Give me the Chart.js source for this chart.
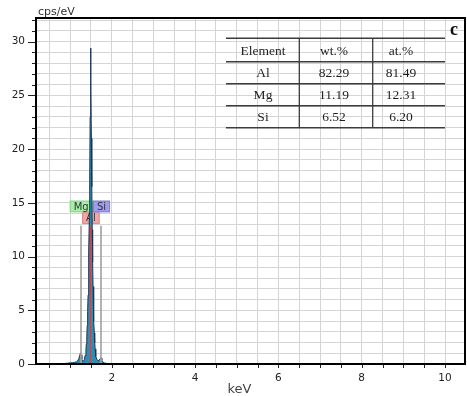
<!DOCTYPE html>
<html><head><meta charset="utf-8">
<script src="https://cdn.jsdelivr.net/npm/chart.js@4/dist/chart.umd.min.js"></script>
<style>html,body{margin:0;padding:0;background:#fff;}</style>
</head><body>
<canvas id="c" width="467" height="396"></canvas>
<script>
// ---- data ----
const energyKeV = [0.18, 0.70, 0.80, 0.90, 1.00, 1.05, 1.10, 1.15, 1.18, 1.21, 1.23, 1.245, 1.255, 1.265, 1.28, 1.30, 1.32, 1.34, 1.36, 1.38, 1.39, 1.40, 1.41, 1.42, 1.43, 1.44, 1.45, 1.46, 1.47, 1.48, 1.49, 1.50, 1.51, 1.52, 1.53, 1.54, 1.55, 1.56, 1.57, 1.58, 1.59, 1.60, 1.61, 1.62, 1.64, 1.67, 1.70, 1.72, 1.735, 1.745, 1.76, 1.78, 1.82, 1.88, 1.95, 2.10, 3.00, 5.00, 8.00, 10.48];
const cpsPerEV  = [0.00, 0.00, 0.02, 0.06, 0.10, 0.12, 0.15, 0.20, 0.30, 0.50, 0.80, 1.00, 1.05, 0.85, 0.45, 0.25, 0.25, 0.40, 0.80, 1.40, 1.90, 2.60, 3.60, 4.90, 6.40, 8.10, 10.50, 13.50, 17.50, 23.00, 29.40, 25.50, 21.00, 16.50, 12.50, 9.50, 7.20, 5.40, 4.00, 2.90, 2.00, 1.40, 1.00, 0.70, 0.45, 0.30, 0.35, 0.50, 0.60, 0.55, 0.35, 0.20, 0.10, 0.05, 0.02, 0.01, 0.01, 0.01, 0.01, 0.01];

const elementNames = ['Mg', 'Al', 'Si'];
const elementKeV   = [1.254, 1.486, 1.740];

const xTickValues = [0.5, 1, 1.5, 2, 2.5, 3, 3.5, 4, 4.5, 5, 5.5, 6, 6.5, 7, 7.5, 8, 8.5, 9, 9.5, 10];
const xTickLabels = [2, 4, 6, 8, 10];
const yTickValues = [0, 1, 2, 3, 4, 5, 6, 7, 8, 9, 10, 11, 12, 13, 14, 15, 16, 17, 18, 19, 20, 21, 22, 23, 24, 25, 26, 27, 28, 29, 30, 31, 32];
const yTickLabels = [0, 5, 10, 15, 20, 25, 30];

const tableHeader   = ['Element', 'wt.%', 'at.%'];
const tableElements = ['Al', 'Mg', 'Si'];
const tableWt       = ['82.29', '11.19', '6.52'];
const tableAt       = ['81.49', '12.31', '6.20'];
const panelLetter   = 'c';

// ---- chart ----
const points = energyKeV.map((x, i) => ({x: x, y: cpsPerEV[i]}));

const labelStyles = {
  Mg: {fill: '#a8eea8', stroke: '#86d686'},
  Al: {fill: '#f3a6a6', stroke: '#dc8a8a'},
  Si: {fill: '#9e9ef0', stroke: '#7e7ed8'}
};

const decor = {
  id: 'decor',
  beforeDatasetsDraw(chart) {
    const {ctx, scales: {x, y}} = chart;
    ctx.save();
    ctx.font = '10px "DejaVu Sans"';
    ctx.textAlign = 'center';
    ctx.textBaseline = 'middle';
    elementNames.forEach((name, i) => {
      const cx = x.getPixelForValue(elementKeV[i]) + 0.5;
      const top = name === 'Al' ? y.getPixelForValue(14.12) : y.getPixelForValue(15.2);
      const w = ctx.measureText(name).width + 8;
      const h = 11.6;
      ctx.fillStyle = labelStyles[name].fill;
      ctx.strokeStyle = labelStyles[name].stroke;
      ctx.lineWidth = 1;
      ctx.fillRect(cx - w / 2, top, w, h);
      ctx.strokeRect(cx - w / 2 + 0.5, top + 0.5, w - 1, h - 1);
      ctx.fillStyle = '#333';
      ctx.fillText(name, cx, top + h / 2 + 0.5);
    });
    ctx.restore();
  },
  afterDatasetsDraw(chart) {
    const {ctx, scales: {x, y}} = chart;
    ctx.save();
    const yTop = y.getPixelForValue(12.86);
    const yBot = y.getPixelForValue(0);
    elementNames.forEach((name, i) => {
      const px = Math.round(x.getPixelForValue(elementKeV[i]));
      ctx.beginPath();
      if (name === 'Al') {
        ctx.strokeStyle = 'rgba(215,60,60,0.8)';
        ctx.lineWidth = 1;
        ctx.moveTo(px + 0.5, yTop); ctx.lineTo(px + 0.5, yBot);
      } else {
        ctx.strokeStyle = 'rgba(165,165,165,0.85)';
        ctx.lineWidth = 2;
        ctx.moveTo(px, yTop); ctx.lineTo(px, yBot);
      }
      ctx.stroke();
    });
    ctx.restore();
  },
  afterDraw(chart) {
    const {ctx, chartArea: a, scales: {x, y}} = chart;
    ctx.save();
    // ticks
    ctx.strokeStyle = '#222';
    ctx.lineWidth = 1;
    yTickValues.forEach(v => {
      const py = Math.round(y.getPixelForValue(v)) + 0.5;
      const len = yTickLabels.includes(v) ? 8 : 4;
      ctx.beginPath(); ctx.moveTo(a.left - len, py); ctx.lineTo(a.left, py); ctx.stroke();
    });
    xTickValues.forEach(v => {
      const px = Math.round(x.getPixelForValue(v)) + 0.5;
      ctx.beginPath(); ctx.moveTo(px, a.bottom); ctx.lineTo(px, a.bottom + 4); ctx.stroke();
    });
    // frame
    ctx.strokeStyle = '#000';
    ctx.lineWidth = 2;
    ctx.strokeRect(a.left, a.top, a.right - a.left, a.bottom - a.top);
    // axis titles
    ctx.fillStyle = '#333';
    ctx.font = '11px "DejaVu Sans"';
    ctx.textAlign = 'left';
    ctx.textBaseline = 'alphabetic';
    ctx.fillText('cps/eV', a.left + 2, 15);
    ctx.fillStyle = '#444';
    ctx.font = '13px "DejaVu Sans"';
    ctx.textAlign = 'center';
    ctx.fillText('keV', 239.5, 393);

    // table
    const colX = [226, 299.3, 372.7, 445];
    const colC = [263, 334, 401];
    const rowY = [38.3, 61.7, 83.7, 105.7, 127.7];
    ctx.strokeStyle = '#3c3c3c';
    ctx.lineWidth = 1.6;
    rowY.forEach(ry => {
      ctx.beginPath(); ctx.moveTo(colX[0], ry); ctx.lineTo(colX[3], ry); ctx.stroke();
    });
    ctx.lineWidth = 1.3;
    [colX[1], colX[2]].forEach(cx => {
      ctx.beginPath(); ctx.moveTo(cx, rowY[0]); ctx.lineTo(cx, rowY[4]); ctx.stroke();
    });
    ctx.fillStyle = '#1e1e1e';
    ctx.font = '13.5px "Liberation Serif"';
    ctx.textAlign = 'center';
    ctx.textBaseline = 'middle';
    const rows = [tableHeader].concat(tableElements.map((e, i) => [e, tableWt[i], tableAt[i]]));
    rows.forEach((r, ri) => {
      const cy = (rowY[ri] + rowY[ri + 1]) / 2 + 1;
      r.forEach((t, ci) => ctx.fillText(t, colC[ci], cy));
    });
    ctx.font = 'bold 18px "Liberation Serif"';
    ctx.fillStyle = '#111';
    ctx.fillText(panelLetter, 454, 30);
    ctx.restore();
  }
};

new Chart(document.getElementById('c'), {
  type: 'line',
  data: {
    datasets: [{
      data: points,
      parsing: false,
      fill: 'origin',
      backgroundColor: '#2e8db3',
      borderColor: '#1b3454',
      borderWidth: 1,
      pointRadius: 0,
      tension: 0
    }]
  },
  options: {
    responsive: false,
    animation: false,
    devicePixelRatio: 1,
    layout: {padding: {top: 18, right: 2, left: 0, bottom: 0}},
    plugins: {legend: {display: false}, tooltip: {enabled: false}, title: {display: false}},
    scales: {
      x: {
        type: 'linear',
        min: 0.18, max: 10.48,
        afterBuildTicks: s => { s.ticks = xTickValues.map(v => ({value: v})); },
        afterFit: s => { s.height = 32; },
        ticks: {
          autoSkip: false, maxRotation: 0, padding: 8, color: '#222',
          font: {family: 'DejaVu Sans', size: 10.5},
          callback: v => xTickLabels.includes(v) ? String(v) : ''
        },
        grid: {color: '#d4d4d4', lineWidth: 1, drawTicks: false},
        border: {display: false}
      },
      y: {
        min: 0, max: 32.2,
        afterBuildTicks: s => { s.ticks = yTickValues.map(v => ({value: v})); },
        afterFit: s => { s.width = 36; },
        ticks: {
          autoSkip: false, padding: 11, color: '#222',
          font: {family: 'DejaVu Sans', size: 10.5},
          callback: v => yTickLabels.includes(v) ? String(v) : ''
        },
        grid: {color: '#d4d4d4', lineWidth: 1, drawTicks: false},
        border: {display: false}
      }
    }
  },
  plugins: [decor]
});
</script>
</body></html>
